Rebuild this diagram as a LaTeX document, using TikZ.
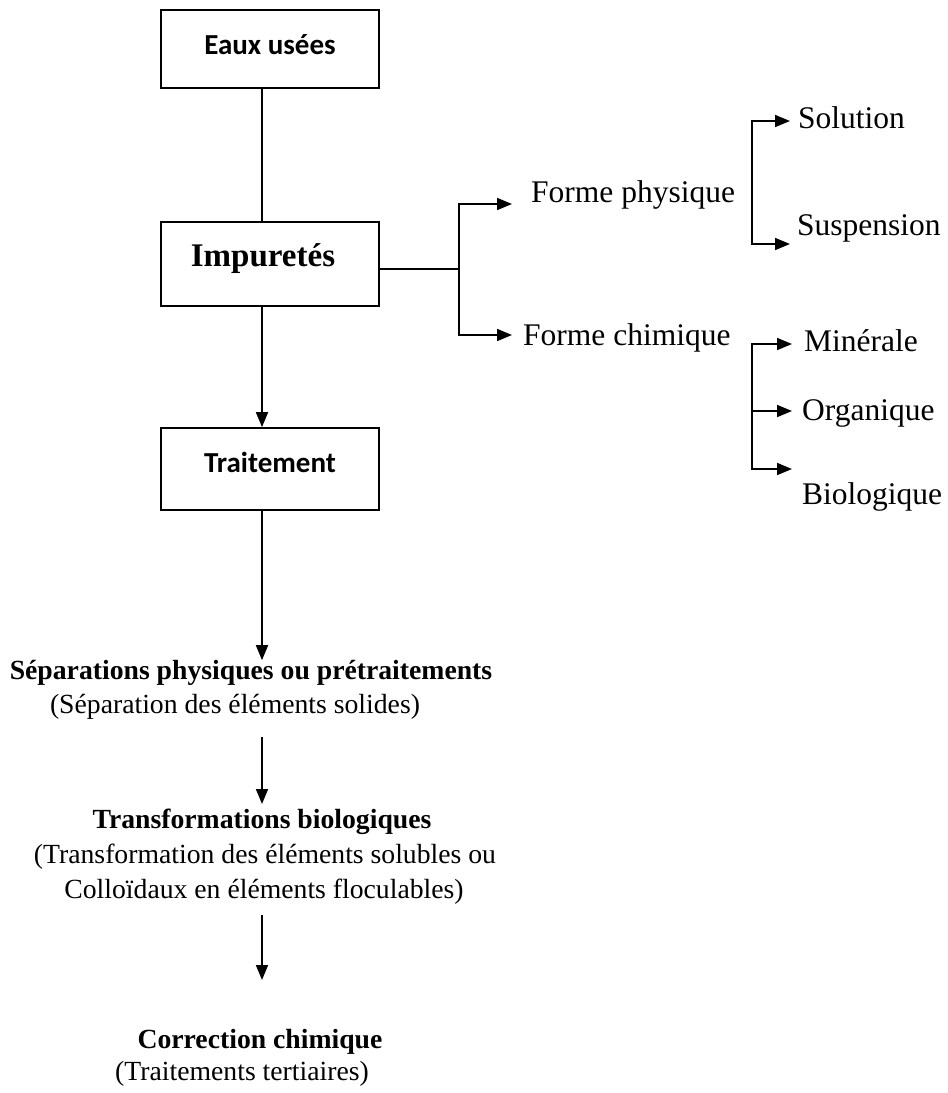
\documentclass[tikz,border=0pt]{standalone}
\usepackage{fontspec}
\setmainfont{Liberation Serif}
\newfontfamily\boxfont{Carlito}
\usetikzlibrary{arrows.meta}
\tikzset{
  frame/.style={draw, line width=1.7pt, minimum width=218pt, inner sep=0pt},
  sanslbl/.style={font=\boxfont\bfseries\fontsize{29}{34}\selectfont, inner sep=0pt},
  lbl/.style={font=\fontsize{31.5}{38}\selectfont, inner sep=0pt},
  slbl/.style={font=\fontsize{27.7}{33}\selectfont, inner sep=0pt},
  sblbl/.style={font=\bfseries\fontsize{27.7}{33}\selectfont, inner sep=0pt},
  conn/.style={line width=1.7pt},
  arr/.style={conn, -{Triangle[length=15pt,width=12pt]}},
}
\begin{document}
\begin{tikzpicture}[x=1pt,y=-1pt]
\useasboundingbox[fill=white] (0,0) rectangle (948,1093);
\coordinate (mx) at (262,0);
% boxes
\node[frame, minimum height=78pt] (eaux) at (270,49) {};
\node[sanslbl] (eauxt) at (270,45) {Eaux usées};
\node[frame, minimum height=84pt] (imp) at (270,264) {};
\node[font=\bfseries\fontsize{33}{38}\selectfont, inner sep=0pt] (impt) at (263,259) {Impuretés};
\node[frame, minimum height=82pt] (trt) at (270,469) {};
\node[sanslbl] (trtt) at (270,462) {Traitement};
% main column texts
\node[sblbl] (sep1) at (251,673) {Séparations physiques ou prétraitements};
\node[slbl] (sep2) at (235,707) {(Séparation des éléments solides)};
\node[sblbl] (tr1) at (262,822) {Transformations biologiques};
\node[slbl] (tr2) at (265,857) {(Transformation des éléments solubles ou};
\node[slbl] (tr3) at (264,892) {Colloïdaux en éléments floculables)};
\node[sblbl] (co1) at (260,1042) {Correction chimique};
\node[slbl] (co2) at (242,1074) {(Traitements tertiaires)};
% main connectors
\draw[conn] (eaux.south -| mx) -- (imp.north -| mx);
\draw[arr] (imp.south -| mx) -- (trt.north -| mx);
\draw[arr] (trt.south -| mx) -- (sep1.north -| mx);
\coordinate (a2s) at (262,737);
\draw[arr, shorten >=5pt] (a2s) -- (tr1.north -| mx);
\coordinate (a3s) at (262,915);
\coordinate (a3e) at (262,980);
\draw[arr] (a3s) -- (a3e);
% right side: forms
\node[lbl, anchor=west] (fp) at (531,195) {Forme physique};
\node[lbl, anchor=west] (fc) at (523,338) {Forme chimique};
\coordinate (j1) at (459,269);
\coordinate (fpa) at (512,204);
\coordinate (fca) at (512,335);
\draw[conn] (imp.east |- j1) -- (j1);
\draw[arr] (j1) |- (fpa);
\draw[arr] (j1) |- (fca);
% physique bracket
\node[lbl, anchor=west] (sol) at (798,118) {Solution};
\node[lbl, anchor=west] (sus) at (797,228) {Suspension};
\coordinate (b1t) at (752,121);
\coordinate (b1b) at (752,244);
\coordinate (tsol) at (790,121);
\coordinate (tsus) at (790,244);
\draw[arr] (b1b) |- (tsol);
\draw[arr] (b1t) |- (tsus);
% chimique bracket
\node[lbl, anchor=west] (min) at (804,341) {Minérale};
\node[lbl, anchor=west] (org) at (802,413) {Organique};
\node[lbl, anchor=west] (bio) at (802,497) {Biologique};
\coordinate (b2t) at (752,344);
\coordinate (b2m) at (752,411);
\coordinate (b2b) at (752,469);
\coordinate (tmin) at (792,344);
\coordinate (torg) at (792,411);
\coordinate (tbio) at (792,469);
\draw[arr] (b2b) |- (tmin);
\draw[arr] (b2t) |- (tbio);
\draw[arr] (b2m) -- (torg);
\end{tikzpicture}
\end{document}
